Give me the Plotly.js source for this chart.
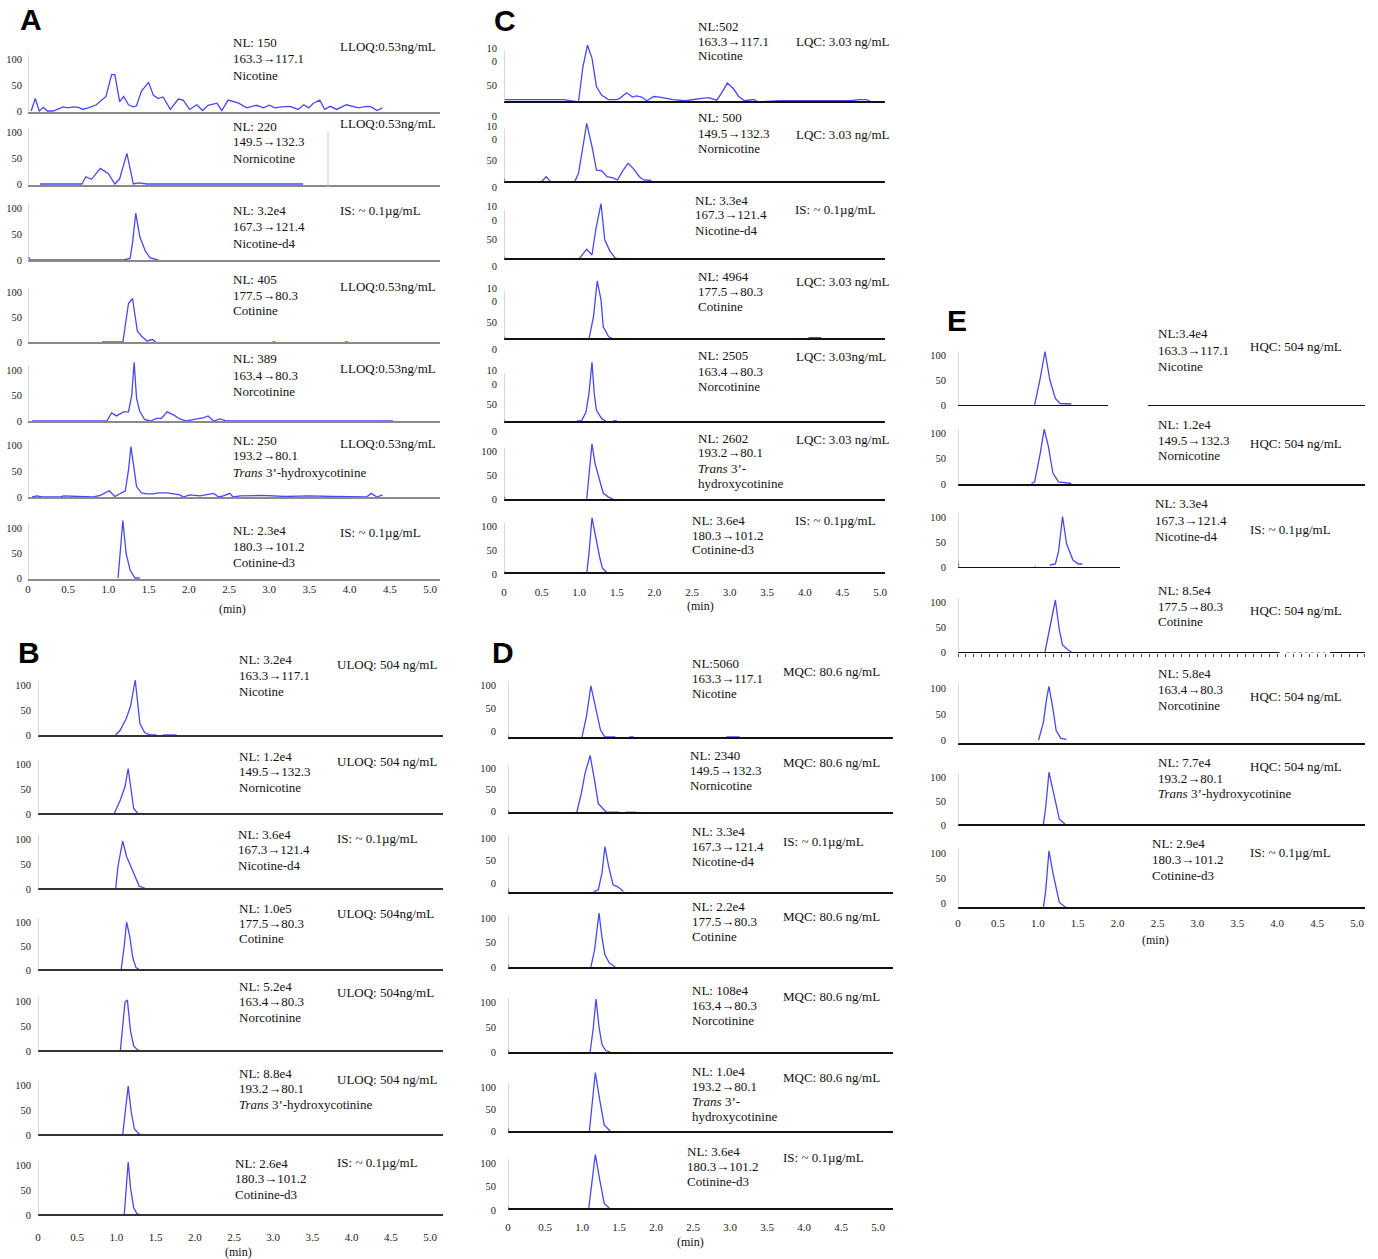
<!DOCTYPE html>
<html><head><meta charset="utf-8">
<script src="https://cdn.plot.ly/plotly-3.0.1.min.js"></script>
<style>html,body{margin:0;padding:0;background:#fff}</style>
</head><body><div id="chart" style="width:1378px;height:1259px"></div>
<script>
// ---------------- DATA (retention time, min ; relative abundance, %) ----------------
const tA1=[0.04,0.09,0.14,0.19,0.24,0.31,0.44,0.50,0.56,0.63,0.68,0.75,0.85,0.97,1.04,1.08,1.14,1.19,1.25,1.31,1.35,1.41,1.50,1.56,1.62,1.68,1.77,1.87,1.93,2.01,2.10,2.17,2.24,2.35,2.41,2.49,2.62,2.72,2.84,2.93,3.00,3.07,3.15,3.26,3.36,3.43,3.49,3.55,3.63,3.69,3.76,3.84,3.96,4.11,4.21,4.27,4.34,4.41];
const vA1=[0,24,0,7,0,0,8,6,8,7,3,6,12,28,70,70,18,28,12,8,10,38,55,30,24,27,3,23,21,3,12,1,11,15,1,21,15,6,11,6,11,6,8,9,3,12,6,15,21,3,9,3,12,6,9,8,1,6];
const tA2=[0.15,0.34,0.67,0.72,0.79,0.90,1.00,1.08,1.14,1.23,1.31,1.37,1.48,3.42];
const vA2=[0,0,0,14,9,30,20,0,10,59,0,2,0,0];
const tA3=[0.0,0.03,1.19,1.27,1.30,1.34,1.39,1.46,1.52,1.58,1.62];
const vA3=[6,0,0,3,33,90,45,17,4,2,0];
const tA4=[0.92,1.07,1.18,1.25,1.30,1.36,1.41,1.48,1.55,1.59,null,3.04,3.08,null,3.94,3.98];
const vA4=[0,0,0,77,87,22,12,2,5,0,null,0,0,null,0,0];
const tA5=[0.05,0.90,0.98,1.04,1.10,1.19,1.25,1.29,1.32,1.35,1.39,1.45,1.52,1.60,1.66,1.73,1.81,1.89,1.97,2.10,2.18,2.24,2.31,2.39,2.47,4.54];
const vA5=[0,1,0,16,10,18,18,50,115,45,19,3,0,5,5,18,12,4,0,4,6,10,0,4,0,0];
const tA6=[0.05,0.11,0.18,0.40,0.44,0.61,0.65,0.81,0.90,0.97,1.01,1.08,1.14,1.21,1.25,1.28,1.31,1.35,1.41,1.48,1.56,1.62,1.73,1.81,1.89,1.93,2.01,2.14,2.22,2.31,2.37,2.43,2.51,2.55,2.64,2.90,3.20,3.50,3.80,4.21,4.27,4.34,4.41];
const vA6=[0,2,0,0,2,1,2,0,3,8,12,1,6,12,52,97,65,20,8,6,6,8,8,6,4,0,4,2,4,7,0,2,7,0,2,3,1,2,1,0,7,0,4];
const tA7=[1.12,1.15,1.18,1.22,1.27,1.33,1.39];
const vA7=[0,63,115,49,16,0,0];

const tB1=[0.99,1.05,1.12,1.18,1.24,1.30,1.36,1.43,1.51,null,1.59,1.77];
const vB1=[0,10,31,57,110,23,5,0,0,null,0,0];
const tB2=[0.97,1.05,1.11,1.15,1.22,1.28,1.42];
const vB2=[0,28,55,91,11,0,0];
const tB3=[0.94,0.99,1.02,1.08,1.13,1.22,1.29,1.39];
const vB3=[0,0,45,96,65,31,6,0];
const tB4=[1.06,1.10,1.13,1.17,1.21,1.25,1.30];
const vB4=[0,50,100,70,25,5,0];
const tB5=[1.05,1.08,1.11,1.14,1.18,1.22,1.27,1.32];
const vB5=[0,55,98,102,40,10,2,0];
const tB6=[1.08,1.11,1.15,1.19,1.23,1.28,1.33];
const vB6=[0,40,98,45,12,3,0];
const tB7=[1.10,1.13,1.15,1.18,1.22,1.26,1.32,null,1.33,1.37];
const vB7=[0,60,106,55,15,3,0,null,0,0];

const tC1=[0.01,0.08,0.26,0.55,0.79,0.99,1.05,1.11,1.17,1.23,1.30,1.39,1.50,1.54,1.63,1.71,1.76,1.83,1.90,1.99,2.07,2.25,2.41,2.63,2.72,2.83,2.89,2.97,3.05,3.12,3.20,3.32,3.38,3.67,4.16,4.60,4.73,4.82,4.89];
const vC1=[27,27,26,27,27,23,81,116,95,48,34,27,27,29,38,31,33,31,25,32,31,27,25,29,30,26,37,54,45,32,25,27,23,25,25,25,27,27,23];
const tC2=[0.0,0.01,null,0.50,0.56,0.62,null,0.94,0.99,1.05,1.10,1.17,1.23,1.30,1.37,1.45,1.51,1.57,1.65,1.72,1.80,1.86,1.96];
const vC2=[16,10,null,10,19,10,null,10,25,75,118,75,31,30,19,17,13,28,44,34,19,13,12];
const tC3=[0.0,0.01,null,1.00,1.10,1.17,1.22,1.29,1.34,1.41,1.48,1.54];
const vC3=[18,13,null,14,32,21,69,119,50,28,15,14];
const tC4=[0.0,0.01,null,1.13,1.19,1.24,1.29,1.32,1.39,1.45,null,4.05,4.22];
const vC4=[23,18.5,null,18.5,60,126,91,41,23,18.5,null,21,21];
const tC5=[0.0,0.01,null,0.97,1.03,1.09,1.13,1.17,1.20,1.23,1.30,1.36,1.42,null,1.45,1.50];
const vC5=[21,17,null,19,19,35,70,128,70,38,23,18,17,null,19,19];
const tC6=[0.0,0.01,null,1.10,1.13,1.17,1.21,1.27,1.32,1.39,1.45];
const vC6=[5,0,null,0,47,116,75,40,12,4,0];
const tC7=[0.0,0.01,null,1.10,1.13,1.17,1.21,1.27,1.31,1.37,1.41];
const vC7=[6,0,null,0,44,119,86,37,12,3,0];

const tD1=[0.0,0.01,null,1.00,1.06,1.12,1.18,1.25,1.31,1.45,null,1.64,1.70,null,2.95,3.13];
const vD1=[-9,-15,null,-13,31,98,53,2,-13,-13,null,-13,-13,null,-13,-13];
const tD2=[0.0,0.01,null,0.93,0.99,1.04,1.11,1.17,1.22,1.33,1.50,null,1.59,1.74];
const vD2=[2,-5,null,-3,41,88,131,72,17,-3,-3,null,-3,-3];
const tD3=[0.0,0.01,null,1.16,1.22,1.27,1.31,1.36,1.42,1.49,1.56];
const vD3=[-11,-22,null,-19,-15,22,81,37,-4,-9,-19];
const tD4=[0.0,0.01,null,1.12,1.17,1.23,1.27,1.31,1.37,1.45];
const vD4=[5,0,null,0,35,110,60,25,8,0];
const tD5=[0.0,0.01,null,1.11,1.15,1.19,1.23,1.27,1.32,1.38];
const vD5=[4,0,null,0,45,106,50,15,3,0];
const tD6=[0.0,0.01,null,1.10,1.13,1.18,1.24,1.30,1.38];
const vD6=[6,0,null,0,48,133,70,14,0];
const tD7=[0.0,0.01,null,1.09,1.13,1.18,1.24,1.30,1.38];
const vD7=[7,2,null,2,50,118,64,14,2];

const tE1=[0.96,1.03,1.09,1.15,1.22,1.28,1.42];
const vE1=[1,54,108,52,14,4,3];
const tE2=[0.92,0.96,1.03,1.08,1.13,1.19,1.26,1.42];
const vE2=[1,4,60,108,76,21,4,1];
const tE3=[0.0,0.01,null,0.96,0.97,null,1.15,1.22,1.26,1.31,1.36,1.44,1.51,1.56];
const vE3=[11,1,null,1,1,null,4,6,31,101,47,14,6,6];
const tE4=[1.09,1.15,1.22,1.27,1.31,1.38,1.42];
const vE4=[0,51,104,44,14,4,0];
const tE5=[1.01,1.07,1.11,1.14,1.19,1.23,1.29,1.36];
const vE5=[0,34,79,103,60,18,3,1];
const tE6=[1.07,1.10,1.14,1.19,1.27,1.34];
const vE6=[2,38,110,73,12,2];
const tE7=[1.07,1.10,1.14,1.19,1.27,1.34,1.37];
const vE7=[-8,27,104,60,2,-6,-10];

// labels
const transitions=["163.3→117.1","149.5→132.3","167.3→121.4","177.5→80.3","163.4→80.3","193.2→80.1","180.3→101.2"];
const compounds=["Nicotine","Nornicotine","Nicotine-d4","Cotinine","Norcotinine","<i>Trans</i> 3’-hydroxycotinine","Cotinine-d3"];
const nlA=["NL: 150","NL: 220","NL: 3.2e4","NL: 405","NL: 389","NL: 250","NL: 2.3e4"];
const nlB=["NL: 3.2e4","NL: 1.2e4","NL: 3.6e4","NL: 1.0e5","NL: 5.2e4","NL: 8.8e4","NL: 2.6e4"];
const nlC=["NL:502","NL: 500","NL: 3.3e4","NL: 4964","NL: 2505","NL: 2602","NL: 3.6e4"];
const nlD=["NL:5060","NL: 2340","NL: 3.3e4","NL: 2.2e4","NL: 108e4","NL: 1.0e4","NL: 3.6e4"];
const nlE=["NL:3.4e4","NL: 1.2e4","NL: 3.3e4","NL: 8.5e4","NL: 5.8e4","NL: 7.7e4","NL: 2.9e4"];
const concA=["LLOQ:0.53ng/mL","LLOQ:0.53ng/mL","IS: ~ 0.1µg/mL","LLOQ:0.53ng/mL","LLOQ:0.53ng/mL","LLOQ:0.53ng/mL","IS: ~ 0.1µg/mL"];
const concB=["ULOQ: 504 ng/mL","ULOQ: 504 ng/mL","IS: ~ 0.1µg/mL","ULOQ: 504ng/mL","ULOQ: 504ng/mL","ULOQ: 504 ng/mL","IS: ~ 0.1µg/mL"];
const concC=["LQC: 3.03 ng/mL","LQC: 3.03 ng/mL","IS: ~ 0.1µg/mL","LQC: 3.03 ng/mL","LQC: 3.03ng/mL","LQC: 3.03 ng/mL","IS: ~ 0.1µg/mL"];
const concD=["MQC: 80.6 ng/mL","MQC: 80.6 ng/mL","IS: ~ 0.1µg/mL","MQC: 80.6 ng/mL","MQC: 80.6 ng/mL","MQC: 80.6 ng/mL","IS: ~ 0.1µg/mL"];
const concE=["HQC: 504 ng/mL","HQC: 504 ng/mL","IS: ~ 0.1µg/mL","HQC: 504 ng/mL","HQC: 504 ng/mL","HQC: 504 ng/mL","IS: ~ 0.1µg/mL"];
const xTickVals=[0,0.5,1,1.5,2,2.5,3,3.5,4,4.5,5];
const xTickText=["0","0.5","1.0","1.5","2.0","2.5","3.0","3.5","4.0","4.5","5.0"];
const yTickVals=[0,50,100];
const yTickText=["0","50","100"];
const yTickTextSplit=["0","50","10<br>0"];
const panelLetters=["A","B","C","D","E"];
const xUnit="(min)";

// ---------------- LAYOUT ----------------
const W=1378,H=1259;
const SERIF='"Liberation Serif","Times New Roman",serif';
const panels=[
 {L:'A',series:[[tA1,vA1],[tA2,vA2],[tA3,vA3],[tA4,vA4],[tA5,vA5],[tA6,vA6],[tA7,vA7]],nl:nlA,conc:concA,
  x0:28,ppm:80.4,xEnd:440,y0:[111,184,260,342,421,497,578],s:[.52,.52,.52,.50,.51,.52,.50],base:[112,185,260,342,421,497,579],
  lc:'#8a8a8a',lw:1.6,ystand:5,xstand:-1,nlX:[231,231,231,231,231,231,231],nlY:[43,126,211,279,359,440,530],gap:16,
  cX:[338,338,338,338,338,338,338],cY:[47,123,210,287,368,443,532],split:false,letter:[31,20],unit:[232,609]},
 {L:'B',series:[[tB1,vB1],[tB2,vB2],[tB3,vB3],[tB4,vB4],[tB5,vB5],[tB6,vB6],[tB7,vB7]],nl:nlB,conc:concB,
  x0:38,ppm:78.4,xEnd:443,y0:[735,814,889,970,1051,1135,1215],s:[.50,.50,.50,.48,.50,.50,.50],base:[736,814,889,970,1051,1135,1215],
  lc:'#333',lw:2,ystand:6,xstand:12,nlX:[237,237,236,237,237,237,233],nlY:[660,756,834,908,986,1073,1163],gap:15.5,
  cX:[335,335,335,335,335,335,335],cY:[664,761,838,913,992,1079,1162],split:false,letter:[29,652],unit:[238,1252]},
 {L:'C',series:[[tC1,vC1],[tC2,vC2],[tC3,vC3],[tC4,vC4],[tC5,vC5],[tC6,vC6],[tC7,vC7]],nl:nlC,conc:concC,
  x0:504,ppm:75.2,xEnd:885,y0:[116,187,266,349,431,499,574],s:[.61,.54,.525,.54,.537,.476,.473],base:[102,182,259,339,422,500,573],
  lc:'#111',lw:2.4,ystand:6,xstand:8,nlX:[696,696,693,696,696,696,690],nlY:[26,118,200,276,356,438,520],gap:15,
  cX:[794,794,793,794,794,794,793],cY:[42,134,209,281,357,439,520],split:true,splitTicks:[0,1,2,3,4],letter:[505,21],unit:[700,606]},
 {L:'D',series:[[tD1,vD1],[tD2,vD2],[tD3,vD3],[tD4,vD4],[tD5,vD5],[tD6,vD6],[tD7,vD7]],nl:nlD,conc:concD,
  x0:508,ppm:74.0,xEnd:893,y0:[731,811,883,967,1052,1131,1210],s:[.46,.424,.45,.49,.50,.44,.47],base:[738,813,893,968,1053,1132,1209],
  lc:'#111',lw:2.4,ystand:11,xstand:7,nlX:[690,688,690,690,690,690,685],nlY:[663,755,831,906,990,1071,1151],gap:15,
  cX:[781,781,781,781,781,781,781],cY:[672,762,842,916,996,1077,1157],split:true,splitTicks:[],letter:[503,652],unit:[690,1242]},
 {L:'E',series:[[tE1,vE1],[tE2,vE2],[tE3,vE3],[tE4,vE4],[tE5,vE5],[tE6,vE6],[tE7,vE7]],nl:nlE,conc:concE,
  x0:958,ppm:79.8,xEnd:1365,y0:[405.5,484,567,652,740,825,903.5],s:[.50,.507,.50,.50,.52,.48,.506],base:[406,485,568,653,744,825,908],
  lc:'#111',lw:2,ystand:11,xstand:5,nlX:[1156,1156,1153,1156,1156,1156,1150],nlY:[334,424,504,590,673,762,843],gap:16,
  cX:[1248,1248,1248,1248,1248,1248,1248],cY:[346,443,529,610,696,766,852],split:false,letter:[957,320],unit:[1155,940]}
];

const traces=[],annotations=[],shapes=[];
const layout={width:W,height:H,margin:{l:0,r:0,t:0,b:0},paper_bgcolor:'#fff',plot_bgcolor:'rgba(0,0,0,0)',showlegend:false};
const px=x=>x/W, py=y=>1-y/H;
let k=0;
panels.forEach(P=>{
  P.series.forEach((sr,i)=>{
    k++;
    const xa='x'+(k===1?'':k), ya='y'+(k===1?'':k);
    const xk='xaxis'+(k===1?'':k), yk='yaxis'+(k===1?'':k);
    const vals=sr[1].filter(v=>v!==null);
    const topVal=Math.max(110,Math.max(...vals)+6);
    const bottomPix=Math.max(P.y0[i],P.base[i]);
    const topPix=P.y0[i]-P.s[i]*topVal;
    const baseVal=(P.y0[i]-P.base[i])/P.s[i];
    const xMax=(P.xEnd-P.x0)/P.ppm;
    const isBottom=(i===6);
    const special=(P.L==='E'&&(i===0||i===2||i===3));
    traces.push({type:'scatter',mode:'lines',x:sr[0],y:sr[1],xaxis:xa,yaxis:ya,
      line:{color:'#4848f2',width:1.3},connectgaps:false,hoverinfo:'skip'});
    layout[xk]={domain:[px(P.x0),px(P.xEnd)],range:[0,xMax],anchor:'free',position:py(P.base[i]),
      showline:!special,linecolor:P.lc,linewidth:P.lw,showgrid:false,zeroline:false,ticks:'',
      showticklabels:isBottom,tickvals:xTickVals,ticktext:xTickText,ticklabelstandoff:P.xstand,
      tickfont:{family:SERIF,size:11,color:'#222'},fixedrange:true};
    const splitLab=P.splitTicks&&P.splitTicks.includes(i);
    layout[yk]={domain:[py(bottomPix),py(topPix)],range:[(P.y0[i]-bottomPix)/P.s[i],topVal],anchor:xa,
      showline:false,showgrid:false,zeroline:false,ticks:'',tickvals:yTickVals,
      ticktext:splitLab?yTickTextSplit:yTickText,ticklabelstandoff:P.ystand,
      tickfont:{family:SERIF,size:10.5,color:'#222'},fixedrange:true};
    // vertical axis line
    shapes.push({type:'line',xref:xa,yref:ya,x0:0,x1:0,y0:baseVal,y1:108,line:{color:'#b4b4b4',width:1}});
    if(special){
      const segs = i===0 ? [[0,1.88],[2.38,xMax]] : i===2 ? [[0,2.03]] : [[0,4.03],[4.66,xMax]];
      segs.forEach(sg=>shapes.push({type:'line',xref:xa,yref:ya,x0:sg[0],x1:sg[1],y0:baseVal,y1:baseVal,line:{color:P.lc,width:P.lw}}));
      if(i===3){
        shapes.push({type:'line',xref:xa,yref:ya,x0:4.12,x1:4.6,y0:baseVal,y1:baseVal,line:{color:'#555',width:1.2,dash:'dot'}});
        layout[xk].ticks='outside';layout[xk].ticklen=3;layout[xk].tickcolor='#444';
        layout[xk].tickmode='linear';layout[xk].tick0=0;layout[xk].dtick=0.1;layout[xk].range=[0,xMax];
      }
    }
    // text
    let lines=[P.nl[i],transitions[i],compounds[i]];
    if(P.split&&i===5) lines=[P.nl[i],transitions[i],"<i>Trans</i> 3’-","hydroxycotinine"];
    lines.forEach((t,j)=>annotations.push({text:t,x:px(P.nlX[i]),y:py(P.nlY[i]+j*P.gap),xref:'paper',yref:'paper',
      xanchor:'left',yanchor:'middle',showarrow:false,font:{family:SERIF,size:13,color:'#111'}}));
    annotations.push({text:P.conc[i],x:px(P.cX[i]),y:py(P.cY[i]),xref:'paper',yref:'paper',xanchor:'left',yanchor:'middle',
      showarrow:false,font:{family:SERIF,size:13,color:'#111'}});
  });
  annotations.push({text:'<b>'+P.L+'</b>',x:px(P.letter[0]),y:py(P.letter[1]),xref:'paper',yref:'paper',xanchor:'center',yanchor:'middle',
    showarrow:false,font:{family:'"Liberation Sans",Arial,sans-serif',size:30,color:'#000'}});
  annotations.push({text:xUnit,x:px(P.unit[0]),y:py(P.unit[1]),xref:'paper',yref:'paper',xanchor:'center',yanchor:'middle',
    showarrow:false,font:{family:SERIF,size:12,color:'#111'}});
});
// stray gray marker line in panel A nornicotine trace
shapes.push({type:'line',xref:'paper',yref:'paper',x0:px(328),x1:px(328),y0:py(132),y1:py(187),line:{color:'#c8c8c8',width:1}});
layout.annotations=annotations;layout.shapes=shapes;
Plotly.newPlot('chart',traces,layout,{displayModeBar:false,staticPlot:true});
</script></body></html>
